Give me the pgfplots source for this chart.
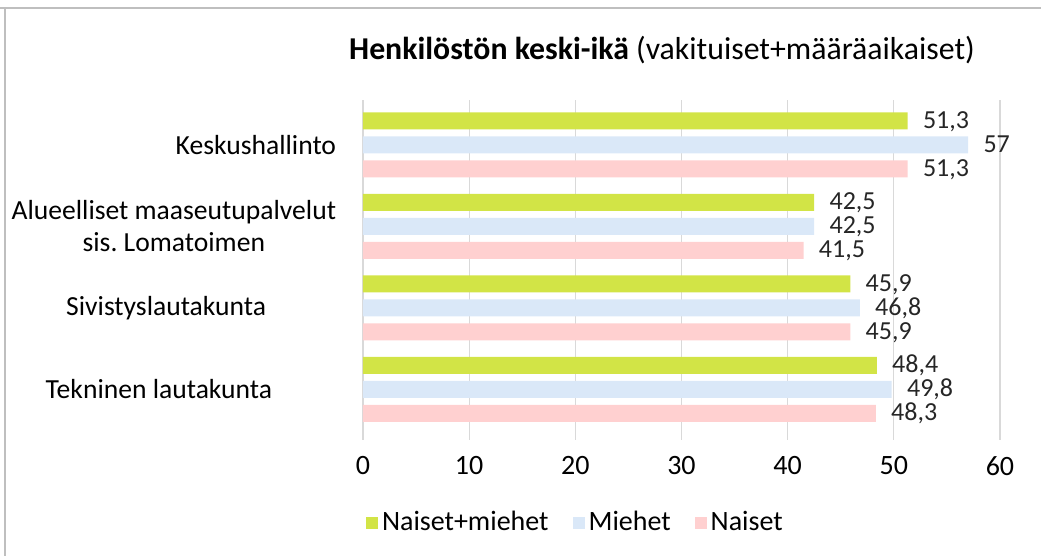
\documentclass[border=0pt]{standalone}
\usepackage{pgfplots}
\pgfplotsset{compat=1.18}
\usepackage{fontspec}
\setmainfont{Carlito}
\definecolor{cgreen}{RGB}{210,228,70}
\definecolor{cblue}{RGB}{218,232,248}
\definecolor{cpink}{RGB}{255,208,208}
\begin{document}
\fontsize{14}{17}\selectfont
\begin{tikzpicture}[x=1pt,y=1pt]
\path[use as bounding box] (0,0) rectangle (520.5,278);
\draw[gray!50, line width=1pt] (0,274) -- (520.5,274);
\draw[gray!50, line width=1pt] (2.5,0) -- (2.5,274);
\node[font=\fontsize{15.9}{18}\selectfont] at (331,253) {\textbf{Henkilöstön keski-ikä} (vakituiset+määräaikaiset)};
\begin{axis}[at={(181.5pt,58pt)}, anchor=south west, scale only axis,
  width=318.5pt, height=170pt,
  xbar, bar width=8.5pt,
  xmin=0, xmax=60, ymin=-0.62, ymax=3.55,
  xtick={0,10,...,60}, ytick={0,1,2,3},
  yticklabels={{Tekninen lautakunta\hspace*{32pt}},{Sivistyslautakunta\hspace*{35pt}},{Alueelliset maaseutupalvelut\\sis.\ Lomatoimen},{Keskushallinto}},
  yticklabel style={inner sep=0pt, xshift=-9pt, align=center, font=\fontsize{13.8}{16}\selectfont},
  xticklabel style={inner sep=0pt, yshift=-8pt},
  axis line style={draw=none}, tick style={draw=none},
  xmajorgrids, grid style={gray!30, line width=0.6pt},
  /pgf/number format/use comma, /pgf/number format/assume math mode=true,
  nodes near coords, nodes near coords align={horizontal},
  every node near coord/.append style={anchor=west, inner sep=0pt, xshift=7.5pt, text=black!85,
    font=\fontsize{13}{15}\selectfont, text height=8.5pt, text depth=1pt},
  legend style={at={(0.335,-0.244)}, anchor=center, draw=none, fill=none, legend columns=-1,
    /tikz/every even column/.append style={column sep=10pt}},
  legend image code/.code={\fill[#1] (0pt,-3pt) rectangle (6pt,3pt);},
]
\addplot[fill=cgreen, draw=none, bar shift=12pt] coordinates {(51.3,3) (42.5,2) (45.9,1) (48.4,0)};
\addplot[fill=cblue, draw=none, bar shift=0pt] coordinates {(57,3) (42.5,2) (46.8,1) (49.8,0)};
\addplot[fill=cpink, draw=none, bar shift=-12pt] coordinates {(51.3,3) (41.5,2) (45.9,1) (48.3,0)};
\legend{Naiset+miehet, Miehet, Naiset}
\end{axis}
\end{tikzpicture}
\end{document}
